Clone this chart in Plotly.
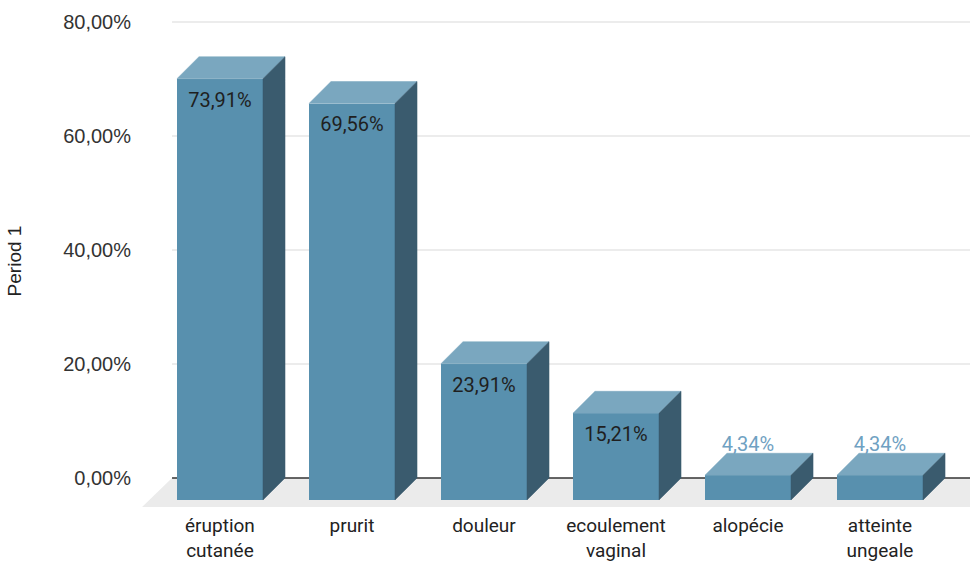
import plotly.graph_objects as go

# Symptoms and their share of patients (%)
categories = ["éruption<br>cutanée", "prurit", "douleur", "ecoulement<br>vaginal", "alopécie", "atteinte<br>ungeale"]
values = [73.91, 69.56, 23.91, 15.21, 4.34, 4.34]
y_ticks = [0, 20, 40, 60, 80]
y_tick_text = [f"{t:.2f}%".replace(".", ",") for t in y_ticks]

FRONT = "#5890ae"
TOP = "#7aa7bf"
SIDE = "#3a5b6e"

# pseudo-3D extrusion, expressed in axis units
DEPTH_X = 0.167     # category units
DEPTH_Y = 3.86      # percent units
BAR_W = 0.652

X_RANGE = [-0.803, 5.515]
Y_RANGE = [-5.965, 82.105]

xs = list(range(len(values)))
front_x = [x - DEPTH_X for x in xs]

fig = go.Figure()

# front faces of the bars
fig.add_trace(go.Bar(
    x=front_x, y=values, base=[-DEPTH_Y] * len(values), width=BAR_W,
    marker=dict(color=FRONT, line=dict(width=0)), hoverinfo="skip", showlegend=False,
))

# top and side faces
top_x, top_y, side_x, side_y = [], [], [], []
for fx, v in zip(front_x, values):
    xl, xr = fx - BAR_W / 2, fx + BAR_W / 2
    top_x += [xl, xl + DEPTH_X, xr + DEPTH_X, xr, xl, None]
    top_y += [v - DEPTH_Y, v, v, v - DEPTH_Y, v - DEPTH_Y, None]
    side_x += [xr, xr + DEPTH_X, xr + DEPTH_X, xr, xr, None]
    side_y += [v - DEPTH_Y, v, 0, -DEPTH_Y, v - DEPTH_Y, None]

fig.add_trace(go.Scatter(x=top_x, y=top_y, mode="lines", fill="toself", fillcolor=TOP,
                         line=dict(color=TOP, width=0.5), hoverinfo="skip", showlegend=False))
fig.add_trace(go.Scatter(x=side_x, y=side_y, mode="lines", fill="toself", fillcolor=SIDE,
                         line=dict(color=SIDE, width=0.5), hoverinfo="skip", showlegend=False))

# value labels: inside the front face for tall bars, above the bar otherwise
in_x, in_y, in_v, out_x, out_y, out_v = [], [], [], [], [], []
for fx, v in zip(front_x, values):
    if v >= 10:
        in_x.append(fx); in_y.append(v - DEPTH_Y - 4.0); in_v.append(v)
    else:
        out_x.append(fx); out_y.append(v + 1.2); out_v.append(v)

fig.add_trace(go.Scatter(x=in_x, y=in_y, mode="text", customdata=in_v,
                         texttemplate="%{customdata:.2f}%", textposition="middle center",
                         textfont=dict(family="Roboto", size=20, color="#1f1f1f"),
                         hoverinfo="skip", showlegend=False))
fig.add_trace(go.Scatter(x=out_x, y=out_y, mode="text", customdata=out_v,
                         texttemplate="%{customdata:.2f}%", textposition="middle center",
                         textfont=dict(family="Roboto", size=20, color="#6fa1c2"),
                         hoverinfo="skip", showlegend=False))

shapes = []
# floor
shapes.append(dict(type="path", xref="x", yref="y", layer="below",
                   path="M -0.53,0 L 5.75,0 L 5.52,-5.09 L -0.757,-5.09 Z",
                   fillcolor="#ebebeb", line=dict(width=0)))
# gridlines
for t in y_ticks:
    shapes.append(dict(type="line", xref="x", yref="y", layer="below",
                       x0=-0.53, x1=X_RANGE[1], y0=t, y1=t,
                       line=dict(color="#333333" if t == 0 else "#d9d9d9", width=1.5 if t == 0 else 1)))

fig.update_layout(
    width=970, height=562,
    margin=dict(l=136, r=0, t=10, b=50),
    paper_bgcolor="white", plot_bgcolor="white",
    separators=",.",
    shapes=shapes,
    bargap=0,
    xaxis=dict(range=X_RANGE, tickvals=front_x, ticktext=categories,
               showgrid=False, zeroline=False, showline=False, ticks="",
               automargin=False, ticklabelstandoff=0,
               tickfont=dict(family="Roboto", size=19, color="#222222")),
    yaxis=dict(range=Y_RANGE, tickvals=y_ticks, ticktext=y_tick_text,
               showgrid=False, zeroline=False, showline=False, ticks="",
               automargin=False, ticklabelstandoff=4,
               tickfont=dict(family="Liberation Sans", size=20, color="#333333"),
               title=dict(text="Period 1", standoff=36,
                          font=dict(family="Liberation Sans", size=19, color="#222222"))),
)

fig.write_html("out.html")
